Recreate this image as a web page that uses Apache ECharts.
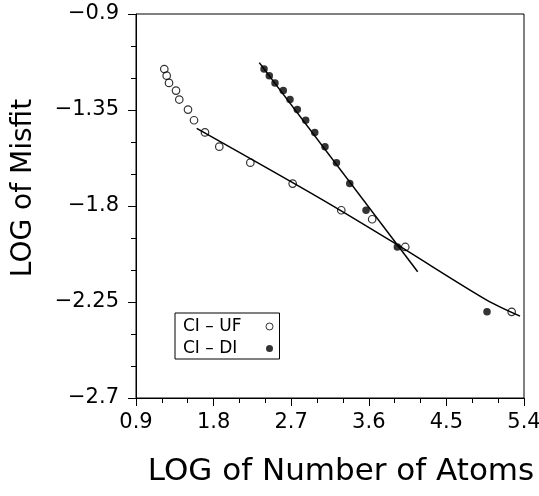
<!DOCTYPE html>
<html>
<head>
<meta charset="utf-8">
<script src="https://cdn.jsdelivr.net/npm/echarts@6/dist/echarts.min.js"></script>
<style>html,body{margin:0;padding:0;background:#fff}#c{width:539px;height:496px}</style>
</head>
<body>
<div id="c"></div>
<script>
// CI - UF (open circles)
const ufX = [1.228,1.256,1.283,1.364,1.402,1.503,1.573,1.700,1.866,2.226,2.717,3.281,3.639,4.023,5.257];
const ufY = [-1.158,-1.189,-1.223,-1.259,-1.301,-1.348,-1.398,-1.455,-1.522,-1.597,-1.695,-1.820,-1.862,-1.992,-2.296];
// CI - DI (filled circles)
const diX = [2.385,2.446,2.512,2.608,2.686,2.771,2.868,2.973,3.092,3.225,3.379,3.568,3.931,4.971];
const diY = [-1.158,-1.189,-1.223,-1.259,-1.301,-1.348,-1.398,-1.455,-1.522,-1.597,-1.695,-1.820,-1.992,-2.296];
// fitted curves
const fitUfX = [1.604,3.034,3.924,4.968,5.354];
const fitUfY = [-1.436,-1.764,-1.980,-2.241,-2.316];
const fitDiX = [2.330,4.167];
const fitDiY = [-1.128,-2.108];
// axes
const xTicks = [0.9,1.8,2.7,3.6,4.5,5.4];
const yTicks = [-2.7,-2.25,-1.8,-1.35,-0.9];
const seriesNames = ['CI \u2013 UF','CI \u2013 DI'];
const xTitle = 'LOG of Number of Atoms';
const yTitle = 'LOG of Misfit';

const zip = (a,b) => a.map((v,i)=>[v,b[i]]);
const FONT = 'DejaVu Sans';
const chart = echarts.init(document.getElementById('c'));
const fmtY = v => { const s = String(Number(v.toFixed(2))); return s.replace('-', '\u2212'); };
chart.setOption({
  animation: false,
  backgroundColor: '#fff',
  grid: {left:136, right:15, top:14, bottom:98, show:true, borderColor:'#000', borderWidth:1,
         containLabel:false, outerBoundsMode:'none'},
  xAxis: {
    type:'value', min:xTicks[0], max:xTicks[xTicks.length-1], interval:0.9,
    name:xTitle, nameLocation:'middle', nameGap:58,
    nameTextStyle:{fontFamily:FONT, fontSize:31, color:'#000', padding:[0,0,0,22]},
    axisLine:{lineStyle:{color:'#000', width:1}},
    axisTick:{show:true, length:8, lineStyle:{color:'#000'}},
    minorTick:{show:true, splitNumber:3, length:5, lineStyle:{color:'#000'}},
    splitLine:{show:false},
    axisLabel:{fontFamily:FONT, fontSize:21, color:'#000', margin:14, formatter:v=>v.toFixed(1)}
  },
  yAxis: {
    type:'value', min:yTicks[0], max:yTicks[yTicks.length-1], interval:0.45,
    name:yTitle, nameLocation:'middle', nameGap:98, nameRotate:90,
    nameTextStyle:{fontFamily:FONT, fontSize:28, color:'#000', padding:[0,0,0,36]},
    axisLine:{show:true, lineStyle:{color:'#000', width:1}},
    axisTick:{show:true, length:8, lineStyle:{color:'#000'}},
    minorTick:{show:true, splitNumber:3, length:5, lineStyle:{color:'#000'}},
    splitLine:{show:false},
    axisLabel:{fontFamily:FONT, fontSize:21, color:'#000', margin:17, formatter:fmtY}
  },
  legend: {
    orient:'vertical', left:175, top:313, align:'right',
    data:[
      {name:seriesNames[0], icon:'circle', itemStyle:{color:'rgba(0,0,0,0)', borderColor:'#000', borderWidth:1}},
      {name:seriesNames[1], icon:'circle', itemStyle:{color:'#000'}}
    ],
    formatter: name => '{t|' + name + '}',
    itemWidth:7, itemHeight:7, itemGap:5,
    padding:[5,6,2,8],
    borderColor:'#000', borderWidth:1,
    textStyle:{fontFamily:FONT, fontSize:17, color:'#000',
      rich:{t:{fontFamily:FONT, fontSize:17, color:'#000', width:78, align:'left'}}}
  },
  series: [
    {type:'line', data:zip(fitUfX,fitUfY), smooth:0.3, symbol:'none', lineStyle:{color:'#000', width:1.5}, z:2},
    {type:'line', data:zip(fitDiX,fitDiY), symbol:'none', lineStyle:{color:'#000', width:1.5}, z:2},
    {name:seriesNames[0], type:'scatter', data:zip(ufX,ufY), symbol:'circle', symbolSize:7.5,
     itemStyle:{color:'rgba(0,0,0,0)', borderColor:'#000', borderWidth:1.2}, z:3},
    {name:seriesNames[1], type:'scatter', data:zip(diX,diY), symbol:'circle', symbolSize:7.5,
     itemStyle:{color:'#000'}, z:3}
  ]
});
</script>
</body>
</html>
